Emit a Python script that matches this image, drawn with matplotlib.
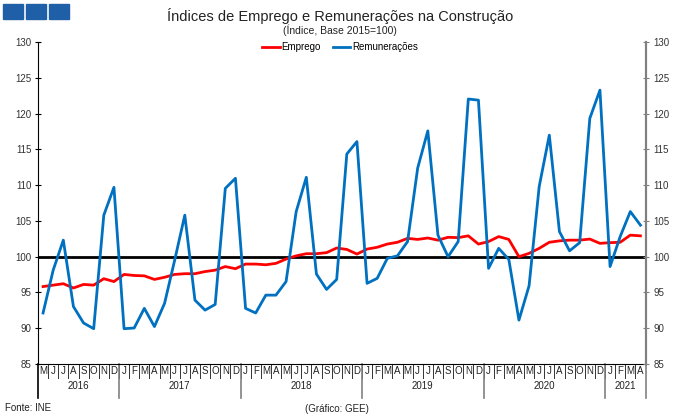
import matplotlib
matplotlib.use("Agg")
import matplotlib.pyplot as plt
from matplotlib.patches import Rectangle
import matplotlib.transforms as mtransforms
import numpy as np

plt.rcParams['font.family'] = ['Liberation Sans Narrow', 'Liberation Sans', 'DejaVu Sans']

month_letters = ["M", "J", "J", "A", "S", "O", "N", "D"] + \
    ["J", "F", "M", "A", "M", "J", "J", "A", "S", "O", "N", "D"] * 4 + \
    ["J", "F", "M", "A"]
years = ["2016", "2017", "2018", "2019", "2020", "2021"]
year_counts = [8, 12, 12, 12, 12, 4]

emprego = [95.8, 96.0, 96.2, 95.6, 96.1, 96.0, 96.9, 96.5, 97.5, 97.35,
           97.3, 96.8, 97.1, 97.5, 97.6, 97.6, 97.9, 98.1, 98.6, 98.3,
           98.95, 98.95, 98.85, 99.05, 99.65, 100.1, 100.4, 100.4, 100.55, 101.2,
           101.0, 100.35, 101.05, 101.3, 101.75, 102.0, 102.55, 102.4, 102.6, 102.3,
           102.7, 102.65, 102.9, 101.75, 102.1, 102.8, 102.4, 99.98, 100.45, 101.15,
           102.0, 102.2, 102.3, 102.3, 102.45, 101.85, 101.95, 102.0, 103.0, 102.9]
remuneracoes = [92.1, 98.1, 102.3, 93.0, 90.7, 89.9, 105.8, 109.7, 89.9, 90.0,
                92.75, 90.2, 93.45, 99.5, 105.8, 93.9, 92.5, 93.3, 109.55, 110.96,
                92.75, 92.1, 94.6, 94.6, 96.5, 106.3, 111.1, 97.55, 95.4, 96.8,
                114.36, 116.1, 96.25, 96.95, 99.75, 100.1, 102.1, 112.4, 117.6, 103.0,
                99.98, 102.1, 122.06, 121.9, 98.35, 101.15, 99.6, 91.1, 95.9, 109.8,
                117.0, 103.5, 100.8, 101.95, 119.35, 123.3, 98.6, 102.8, 106.3, 104.4]
yticks = [85, 90, 95, 100, 105, 110, 115, 120, 125, 130]

W, H = 680, 420
fig = plt.figure(figsize=(6.8, 4.2), dpi=100)
L, R, T, B = 38, 645.5, 42.3, 363.7
ax = fig.add_axes([L / W, 1 - B / H, (R - L) / W, (B - T) / H])

x = np.arange(len(emprego))
red = '#FF0000'
blue = '#0070C0'
ax.axhline(100, color='black', lw=2.0, zorder=2)
l1, = ax.plot(x, emprego, color=red, lw=2.0, zorder=3, label='Emprego')
l2, = ax.plot(x, remuneracoes, color=blue, lw=2.0, zorder=4, label='Remunerações')

ax.set_xlim(-0.5, len(x) - 0.5)
ax.set_ylim(85, 130)
ax.set_yticks(yticks)
ax.set_xticks([])
ax.spines['top'].set_visible(False)
ax.spines['left'].set_color('black')
ax.spines['bottom'].set_color('black')
ax.spines['right'].set_color('#808080')
ax.spines['right'].set_linewidth(1.5)
ax.tick_params(axis='y', direction='inout', length=5, labelsize=7, colors='black',
               left=True, right=False, pad=2)
ax.set_yticklabels([str(v) for v in yticks], color='#333333')

ax2 = ax.twinx()
ax2.set_ylim(85, 130)
ax2.set_yticks(yticks)
ax2.set_yticklabels([str(v) for v in yticks], color='#333333')
for s in ['top', 'left', 'bottom']:
    ax2.spines[s].set_visible(False)
ax2.spines['right'].set_color('#808080')
ax2.spines['right'].set_linewidth(1.5)
ax2.tick_params(axis='y', direction='inout', length=5, labelsize=7, colors='#808080',
                labelcolor='#333333', pad=3)
ax2.set_xticks([])

trans = mtransforms.blended_transform_factory(ax.transData, ax.transAxes)
ph = B - T
def frac(px):
    return -(px - B) / ph

# month letters and separators
for i, m in enumerate(month_letters):
    ax.text(i, frac(371), m, transform=trans, ha='center', va='center',
            fontsize=7, color='#222222', clip_on=False)
for i in range(len(month_letters) - 1):
    ax.plot([i + 0.5, i + 0.5], [0, frac(378)], transform=trans, color='#333333',
            lw=0.7, clip_on=False)
# year labels and separators
start = -0.5
bounds = [start]
for yr, c in zip(years, year_counts):
    end = start + c
    ax.text((start + end) / 2, frac(386), yr, transform=trans, ha='center', va='center',
            fontsize=7, color='#222222', clip_on=False)
    bounds.append(end)
    start = end
for k, b in enumerate(bounds):
    col = 'black' if k == 0 else '#808080'
    ax.plot([b, b], [0, frac(398)], transform=trans, color=col, lw=1.2, clip_on=False)

# title and subtitle
fig.text(340 / W, 1 - 16 / H, 'Índices de Emprego e Remunerações na Construção',
         ha='center', va='center', fontsize=10.5, color='#222222')
fig.text(340 / W, 1 - 30 / H, '(Índice, Base 2015=100)', ha='center', va='center',
         fontsize=7.5, color='#222222')

fig.legend(handles=[l1, l2], loc='center', bbox_to_anchor=(340 / W, 1 - 47 / H),
           ncol=2, frameon=False, fontsize=7, handlelength=1.8, handletextpad=0.2,
           columnspacing=1.2, borderpad=0)

# logo squares
for x0 in [3, 26, 49]:
    fig.patches.append(Rectangle((x0 / W, 1 - 19 / H), 20 / W, 15 / H,
                                 transform=fig.transFigure, color='#1F5FA8'))

fig.text(5 / W, 1 - 408 / H, 'Fonte: INE', ha='left', va='center', fontsize=7,
         color='#222222')
fig.text(337 / W, 1 - 409 / H, '(Gráfico: GEE)', ha='center', va='center', fontsize=7,
         color='#222222')

fig.savefig('out.png', dpi=100)
